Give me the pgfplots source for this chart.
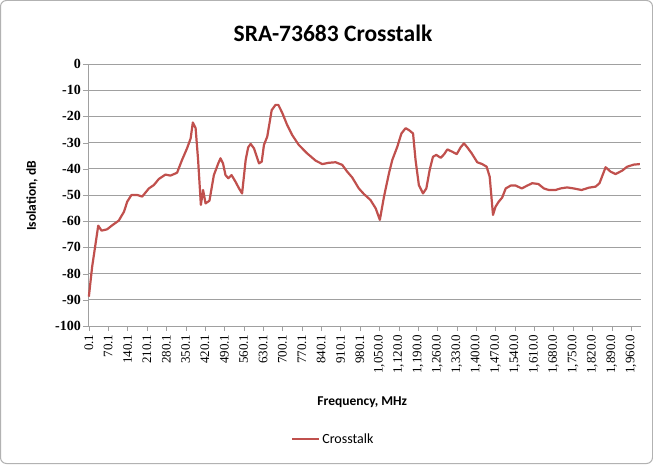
\documentclass[border=0pt]{standalone}
\usepackage{fontspec}
\setmainfont{Carlito}
\newfontfamily\tickfont{Liberation Serif}
\usepackage{pgfplots}
\pgfplotsset{compat=1.18}
\definecolor{xlred}{RGB}{192,80,77}
\definecolor{gridgray}{RGB}{160,160,160}

\begin{document}
\begin{tikzpicture}
\draw[gray!60, line width=1pt, rounded corners=6pt] (0.5pt,0.5pt) rectangle (652.5pt,463.5pt);
\node[font=\bfseries\fontsize{23.5}{27}\selectfont] at (333pt,431pt) {SRA-73683 Crosstalk};
\begin{axis}[at={(88pt,138pt)}, anchor=south west, scale only axis,
  width=553pt, height=262pt,
  xmin=-3, xmax=1996, ymin=-100, ymax=0,
  axis x line*=bottom, axis y line*=left,
  axis line style={gridgray}, tick style={gridgray},
  tick align=outside, major tick length=5pt, minor tick length=3pt,
  ytick={-100,-90,...,0}, ymajorgrids, major grid style={gridgray, line width=0.8pt},
  xtick={0.1,70,140,210,280,350,420,490,560,630,700,770,840,910,980,1050,1120,1190,1260,1330,1400,1470,1540,1610,1680,1750,1820,1890,1960},
  xticklabels={0.1,70.1,140.1,210.1,280.1,350.1,420.1,490.1,560.1,630.1,700.1,770.1,840.1,910.1,980.1,{1,050.0},{1,120.0},{1,190.0},{1,260.0},{1,330.0},{1,400.0},{1,470.0},{1,540.0},{1,610.0},{1,680.0},{1,750.0},{1,820.0},{1,890.0},{1,960.0}},
  minor x tick num=6,
  xticklabel style={rotate=90, anchor=east, font=\tickfont\fontsize{13}{15}\selectfont, inner sep=3.5pt},
  yticklabel style={font=\tickfont\bfseries\fontsize{14}{16}\selectfont, inner sep=2pt},
  /pgf/number format/assume math mode=true,
  xlabel={Frequency, MHz}, ylabel={Isolation, dB},
  label style={font=\bfseries\fontsize{13.5}{16}\selectfont},
  xlabel style={at={(axis description cs:0.496,-0.29)}, anchor=center},
  ylabel style={at={(axis description cs:-0.101,0.496)}, anchor=center},
  legend style={at={(axis description cs:0.4436,-0.431)}, anchor=center, draw=none, fill=none,
    font=\fontsize{14}{16}\selectfont, inner sep=1pt},
  legend image code/.code={\draw[#1] (0pt,0pt) -- (27pt,0pt);},
  clip=false]
\addplot[xlred, line width=2.2pt, line join=round] coordinates {
(0.1,-88.8)(12,-77.4)(34,-61.7)(46,-63.6)(66,-63.1)(84,-61.6)(108,-59.8)(127,-56.4)(139,-52.5)(154,-50)(175,-50)(193,-50.6)(217,-47.5)(235,-46.2)(253,-43.9)(277,-42.2)(295,-42.6)(319,-41.5)(337,-36.6)(355,-32.2)(368,-28.4)(376,-22.3)(386,-24.5)(395,-36.6)(405,-53.8)(413,-48.1)(422,-53.2)(436,-52.2)(452,-42.4)(468,-37.9)(476,-36)(485,-37.9)(494,-42.4)(504,-43.6)(516,-42.4)(530,-44.9)(543,-47.5)(554,-49.4)(567,-36.6)(576,-31.8)(585,-30.5)(597,-32.2)(615,-37.9)(625,-37.3)(633,-30.9)(645,-27.7)(661,-17.6)(675,-15.6)(685,-15.6)(699,-18.6)(717,-23.3)(735,-27.1)(759,-30.9)(789,-34.1)(820,-36.9)(844,-38.2)(868,-37.7)(892,-37.5)(916,-38.5)(934,-41.1)(952,-43.3)(976,-47.5)(994,-49.6)(1018,-51.9)(1037,-55.1)(1052,-59.5)(1067,-50.6)(1085,-41.7)(1097,-36.6)(1115,-31.6)(1130,-26.5)(1145,-24.5)(1157,-25.2)(1172,-26.5)(1181,-36.6)(1193,-46.2)(1208,-49.4)(1220,-47.5)(1232,-40.5)(1244,-35.4)(1256,-34.7)(1272,-35.8)(1284,-34.5)(1296,-32.6)(1314,-33.5)(1330,-34.4)(1344,-31.8)(1356,-30.3)(1368,-31.8)(1384,-34.1)(1404,-37.5)(1422,-38.2)(1438,-39.2)(1449,-43)(1461,-57.6)(1470,-54.5)(1482,-52.5)(1494,-51)(1507,-47.5)(1525,-46.4)(1543,-46.4)(1565,-47.5)(1585,-46.4)(1603,-45.5)(1625,-45.8)(1645,-47.5)(1663,-48.1)(1687,-48.1)(1705,-47.5)(1729,-47.1)(1753,-47.5)(1781,-48.1)(1808,-47.2)(1832,-46.8)(1846,-45.5)(1868,-39.4)(1886,-41.1)(1904,-42)(1928,-40.7)(1946,-39.2)(1970,-38.4)(1992,-38.2)};
\addlegendentry{Crosstalk}
\end{axis}
\end{tikzpicture}
\end{document}
